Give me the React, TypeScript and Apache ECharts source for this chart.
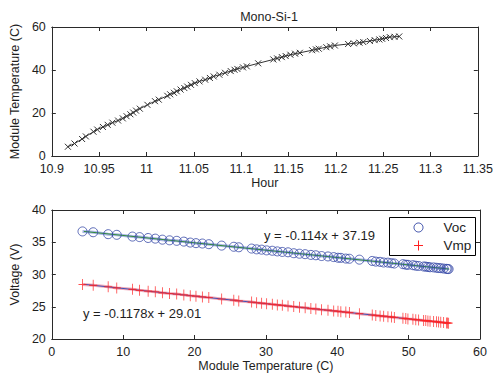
import React, { useEffect, useRef } from "react";
import * as echarts from "echarts";

// Top chart: hour vs module temperature
const hours = [
  10.917, 10.924, 10.932, 10.936, 10.944, 10.948, 10.954, 10.959, 10.964, 10.970,
  10.975, 10.979, 10.983, 10.986, 10.989, 10.993, 11.001, 11.009, 11.013, 11.022,
  11.025, 11.029, 11.032, 11.036, 11.040, 11.043, 11.047, 11.051, 11.056, 11.062,
  11.067, 11.071, 11.077, 11.083, 11.089, 11.093, 11.096, 11.102, 11.106, 11.118,
  11.134, 11.138, 11.143, 11.147, 11.152, 11.157, 11.162, 11.175, 11.179, 11.182,
  11.190, 11.194, 11.199, 11.213, 11.219, 11.225, 11.229, 11.236, 11.241, 11.246,
  11.249, 11.253, 11.257, 11.262, 11.267,
];
const moduleTemp = [
  4.3, 5.8, 7.9, 9.1, 11.3, 12.3, 13.5, 14.5, 15.5, 16.5,
  17.5, 18.5, 19.4, 20.2, 21.1, 22.0, 23.8, 25.5, 26.2, 28.0,
  28.7, 29.4, 30.1, 30.9, 31.6, 32.3, 33.1, 33.9, 34.7, 35.5,
  36.3, 37.0, 37.8, 38.7, 39.5, 40.1, 40.5, 41.2, 41.7, 43.1,
  44.9, 45.4, 46.0, 46.5, 47.1, 47.6, 48.0, 49.2, 49.6, 49.9,
  50.6, 51.0, 51.4, 52.1, 52.4, 52.7, 53.0, 53.5, 53.9, 54.2,
  54.5, 54.9, 55.3, 55.45, 55.6,
];
// Bottom chart: voltages vs module temperature
const voc = [
  36.68, 36.55, 36.25, 36.15, 35.88, 35.80, 35.66, 35.56, 35.40, 35.30,
  35.22, 35.10, 34.95, 34.86, 34.80, 34.70, 34.48, 34.30, 34.22, 34.02,
  33.90, 33.85, 33.74, 33.68, 33.58, 33.50, 33.44, 33.30, 33.22, 33.15,
  33.04, 32.98, 32.86, 32.80, 32.70, 32.60, 32.58, 32.47, 32.44, 32.30,
  32.10, 32.00, 31.96, 31.86, 31.84, 31.76, 31.70, 31.60, 31.52, 31.50,
  31.44, 31.36, 31.32, 31.24, 31.22, 31.17, 31.12, 31.10, 31.04, 31.00,
  30.98, 30.92, 30.88, 30.85, 30.84,
];
const vmp = [
  28.45, 28.32, 28.10, 27.92, 27.70, 27.55, 27.42, 27.32, 27.16, 27.05,
  26.96, 26.84, 26.70, 26.64, 26.52, 26.44, 26.20, 26.02, 25.90, 25.72,
  25.62, 25.56, 25.46, 25.38, 25.28, 25.22, 25.10, 25.02, 24.92, 24.84,
  24.72, 24.66, 24.54, 24.47, 24.35, 24.30, 24.22, 24.17, 24.10, 23.93,
  23.72, 23.66, 23.58, 23.54, 23.45, 23.42, 23.34, 23.22, 23.18, 23.12,
  23.06, 23.00, 22.96, 22.86, 22.85, 22.80, 22.75, 22.72, 22.66, 22.63,
  22.58, 22.55, 22.50, 22.48, 22.46,
];
const fitTemp = [4.5, 55.7];
const vocFit = [36.68, 30.84];
const vmpFit = [28.48, 22.45];

const topXTicks = { min: 10.9, max: 11.35, interval: 0.05 };
const topYTicks = { min: 0, max: 60, interval: 20 };
const botXTicks = { min: 0, max: 60, interval: 10 };
const botYTicks = { min: 20, max: 40, interval: 5 };

const FONT = "Liberation Sans, Arial, sans-serif";
const AXIS_COLOR = "#2a2a2a";
const TEXT_COLOR = "#1e1e1e";

function axisBase(show: boolean, labelMargin: number, fmt?: (v: number) => string) {
  return {
    axisLine: { show: true, onZero: false, lineStyle: { color: AXIS_COLOR, width: 1 } },
    axisTick: { show: true, inside: true, length: 4, lineStyle: { color: AXIS_COLOR } },
    splitLine: { show: false },
    axisLabel: {
      show,
      margin: labelMargin,
      color: TEXT_COLOR,
      fontSize: 12.5,
      fontFamily: FONT,
      formatter: fmt,
    },
  };
}

const fmtHour = (v: number) => String(parseFloat(v.toFixed(2)));

export default function App() {
  const ref = useRef<HTMLDivElement>(null);
  useEffect(() => {
    document.body.style.margin = "0";
    if (!ref.current) return;
    const chart = echarts.init(ref.current, undefined, { renderer: "svg" });
    const nameStyle = { color: TEXT_COLOR, fontSize: 12.5, fontFamily: FONT };
    const xSym = "path://M0,0L10,10M10,0L0,10";
    const plusSym = "path://M5,0L5,10M0,5L10,5";
    chart.setOption({
      animation: false,
      backgroundColor: "#ffffff",
      title: {
        text: "Mono-Si-1",
        left: 264,
        textAlign: "center",
        top: 5,
        textStyle: { fontSize: 12.5, fontWeight: "normal", color: TEXT_COLOR, fontFamily: FONT },
      },
      grid: [
        { left: 49, top: 27, width: 431, height: 129 },
        { left: 49, top: 210, width: 431, height: 129 },
      ],
      xAxis: [
        {
          type: "value", gridIndex: 0, position: "bottom", ...topXTicks,
          ...axisBase(true, 6, fmtHour),
          name: "Hour", nameLocation: "middle", nameGap: 20, nameTextStyle: nameStyle,
        },
        { type: "value", gridIndex: 0, position: "top", ...topXTicks, ...axisBase(false, 6) },
        {
          type: "value", gridIndex: 1, position: "bottom", ...botXTicks,
          ...axisBase(true, 6),
          name: "Module Temperature (C)", nameLocation: "middle", nameGap: 20, nameTextStyle: nameStyle,
        },
        { type: "value", gridIndex: 1, position: "top", ...botXTicks, ...axisBase(false, 6) },
      ],
      yAxis: [
        {
          type: "value", gridIndex: 0, position: "left", ...topYTicks,
          ...axisBase(true, 6),
          name: "Module Temperature (C)", nameLocation: "middle", nameGap: 27, nameTextStyle: nameStyle,
        },
        { type: "value", gridIndex: 0, position: "right", ...topYTicks, ...axisBase(false, 6) },
        {
          type: "value", gridIndex: 1, position: "left", ...botYTicks,
          ...axisBase(true, 6),
          name: "Voltage (V)", nameLocation: "middle", nameGap: 27, nameTextStyle: nameStyle,
        },
        { type: "value", gridIndex: 1, position: "right", ...botYTicks, ...axisBase(false, 6) },
      ],
      series: [
        {
          name: "Temperature",
          type: "line",
          xAxisIndex: 0,
          yAxisIndex: 0,
          data: hours.map((h, i) => [h, moduleTemp[i]]),
          symbol: xSym,
          symbolSize: 6,
          showAllSymbol: true,
          lineStyle: { color: "#333333", width: 1 },
          itemStyle: { color: "#333333", borderColor: "#333333", borderWidth: 1 },
        },
        {
          name: "VocData",
          type: "line",
          xAxisIndex: 2,
          yAxisIndex: 2,
          data: moduleTemp.map((t, i) => [t, voc[i]]),
          symbol: "none",
          lineStyle: { color: "#aab6e4", width: 3 },
          z: 1,
        },
        {
          name: "VmpData",
          type: "line",
          xAxisIndex: 2,
          yAxisIndex: 2,
          data: moduleTemp.map((t, i) => [t, vmp[i]]),
          symbol: "none",
          lineStyle: { color: "#f2a9b8", width: 3 },
          z: 1,
        },
        {
          name: "VocFit",
          type: "line",
          xAxisIndex: 2,
          yAxisIndex: 2,
          data: fitTemp.map((t, i) => [t, vocFit[i]]),
          symbol: "none",
          lineStyle: { color: "#2f8a3a", width: 1 },
          z: 2,
        },
        {
          name: "VmpFit",
          type: "line",
          xAxisIndex: 2,
          yAxisIndex: 2,
          data: fitTemp.map((t, i) => [t, vmpFit[i]]),
          symbol: "none",
          lineStyle: { color: "#3f51b5", width: 1 },
          z: 2,
        },
        {
          name: "Voc",
          type: "scatter",
          xAxisIndex: 2,
          yAxisIndex: 2,
          data: moduleTemp.map((t, i) => [t, voc[i]]),
          symbol: "circle",
          symbolSize: 9,
          itemStyle: { color: "transparent", borderColor: "#3447a6", borderWidth: 1 },
          z: 3,
        },
        {
          name: "Vmp",
          type: "scatter",
          xAxisIndex: 2,
          yAxisIndex: 2,
          data: moduleTemp.map((t, i) => [t, vmp[i]]),
          symbol: plusSym,
          symbolSize: [8, 11],
          itemStyle: { color: "#ff2222", borderColor: "#ff2222", borderWidth: 1 },
          z: 3,
        },
      ],
      graphic: [
        {
          type: "text",
          left: 264,
          top: 229,
          style: { text: "y = -0.114x + 37.19", fontSize: 13, fontFamily: FONT, fill: TEXT_COLOR },
        },
        {
          type: "text",
          left: 83,
          top: 307,
          style: { text: "y = -0.1178x + 29.01", fontSize: 13, fontFamily: FONT, fill: TEXT_COLOR },
        },
        {
          type: "group",
          left: 389,
          top: 217,
          children: [
            {
              type: "rect",
              shape: { x: 0, y: 0, width: 86, height: 38 },
              style: { fill: "#ffffff", stroke: "#000000", lineWidth: 1 },
            },
            {
              type: "circle",
              shape: { cx: 29, cy: 10, r: 4.5 },
              style: { fill: "none", stroke: "#3447a6", lineWidth: 1 },
            },
            {
              type: "text",
              x: 54,
              y: 10,
              style: { text: "Voc", fontSize: 13.5, fontFamily: FONT, fill: TEXT_COLOR, verticalAlign: "middle" },
            },
            {
              type: "line",
              shape: { x1: 29, y1: 23, x2: 29, y2: 33 },
              style: { stroke: "#ff2222", lineWidth: 1 },
            },
            {
              type: "line",
              shape: { x1: 24.5, y1: 28, x2: 33.5, y2: 28 },
              style: { stroke: "#ff2222", lineWidth: 1 },
            },
            {
              type: "text",
              x: 54,
              y: 28,
              style: { text: "Vmp", fontSize: 13.5, fontFamily: FONT, fill: TEXT_COLOR, verticalAlign: "middle" },
            },
          ],
          z: 10,
        },
      ],
    });
    return () => chart.dispose();
  }, []);
  return <div ref={ref} style={{ width: 496, height: 378 }} />;
}
